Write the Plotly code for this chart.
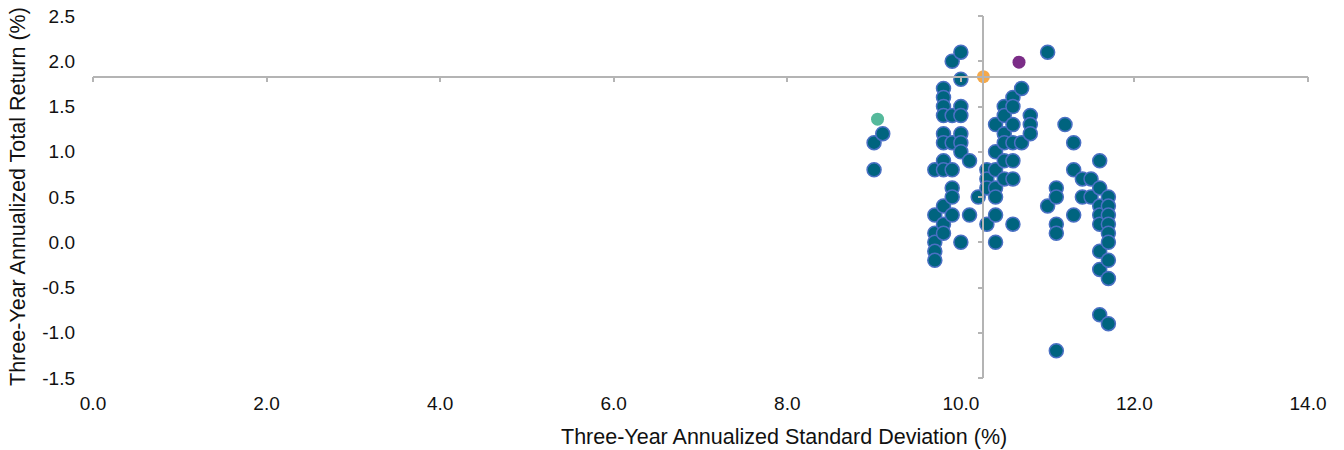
import plotly.graph_objects as go

# ---- data ----
peer_std = [
    9.0, 9.1, 9.0,
    9.7, 9.7, 9.7, 9.7, 9.7, 9.7,
    9.8, 9.8, 9.8, 9.8, 9.8, 9.8, 9.8, 9.8, 9.8, 9.8, 9.8,
    9.9, 9.9, 9.9, 9.9, 9.9, 9.9, 9.9,
    10.0, 10.0, 10.0, 10.0, 10.0, 10.0, 10.0, 10.0,
    10.1, 10.1,
    10.2,
    10.3, 10.3, 10.3, 10.3,
    10.4, 10.4, 10.4, 10.4, 10.4, 10.4, 10.4,
    10.5, 10.5, 10.5, 10.5, 10.5, 10.5,
    10.6, 10.6, 10.6, 10.6, 10.6, 10.6, 10.6,
    10.7, 10.7,
    10.8, 10.8, 10.8,
    11.0, 11.0,
    11.1, 11.1, 11.1, 11.1, 11.1,
    11.2,
    11.3, 11.3, 11.3,
    11.4, 11.4,
    11.5, 11.5,
    11.6, 11.6, 11.6, 11.6, 11.6, 11.6, 11.6, 11.6,
    11.7, 11.7, 11.7, 11.7, 11.7, 11.7, 11.7, 11.7, 11.7,
]
peer_ret = [
    1.1, 1.2, 0.8,
    0.8, 0.3, 0.1, 0.0, -0.1, -0.2,
    1.7, 1.6, 1.5, 1.4, 1.2, 1.1, 0.9, 0.8, 0.4, 0.2, 0.1,
    2.0, 1.4, 1.1, 0.8, 0.6, 0.5, 0.3,
    2.1, 1.8, 1.5, 1.4, 1.2, 1.1, 1.0, 0.0,
    0.9, 0.3,
    0.5,
    0.8, 0.7, 0.6, 0.2,
    1.3, 1.0, 0.8, 0.6, 0.5, 0.3, 0.0,
    1.5, 1.4, 1.2, 1.1, 0.9, 0.7,
    1.6, 1.5, 1.3, 1.1, 0.9, 0.7, 0.2,
    1.7, 1.1,
    1.4, 1.3, 1.2,
    2.1, 0.4,
    0.6, 0.5, 0.2, 0.1, -1.2,
    1.3,
    1.1, 0.8, 0.3,
    0.7, 0.5,
    0.7, 0.5,
    0.9, 0.6, 0.4, 0.3, 0.2, -0.1, -0.3, -0.8,
    0.5, 0.4, 0.3, 0.2, 0.1, 0.0, -0.2, -0.4, -0.9,
]

fund_std = [9.04]
fund_ret = [1.36]
index_std = [10.67]
index_ret = [1.99]
avg_std = [10.26]
avg_ret = [1.83]

x_ticks = [0, 2, 4, 6, 8, 10, 12, 14]
y_ticks = [-1.5, -1.0, -0.5, 0.0, 0.5, 1.0, 1.5, 2.0, 2.5]
x_range = [0, 14]
y_range = [-1.5, 2.5]

x_title = "Three-Year Annualized Standard Deviation (%)"
y_title = "Three-Year Annualized Total Return (%)"

FONT = "Liberation Sans, Arial, sans-serif"
TXT = "#111111"
AXC = "#b4b4b4"

fig = go.Figure()

fig.add_trace(go.Scatter(
    x=peer_std, y=peer_ret, mode="markers",
    marker=dict(size=14, color="#00647f", line=dict(color="#4a70c4", width=1.5)),
    showlegend=False, hoverinfo="x+y",
))
fig.add_trace(go.Scatter(
    x=fund_std, y=fund_ret, mode="markers",
    marker=dict(size=13, color="#55b99b"), showlegend=False,
))
fig.add_trace(go.Scatter(
    x=index_std, y=index_ret, mode="markers",
    marker=dict(size=13, color="#7b2d87"), showlegend=False,
))
fig.add_trace(go.Scatter(
    x=avg_std, y=avg_ret, mode="markers",
    marker=dict(size=13, color="#f5a94a"), showlegend=False,
))
# dummy trace to create the crossing axes subplot
fig.add_trace(go.Scatter(x=[], y=[], xaxis="x2", yaxis="y2", showlegend=False))

x_pos = (avg_ret[0] - y_range[0]) / (y_range[1] - y_range[0])
y_pos = (avg_std[0] - x_range[0]) / (x_range[1] - x_range[0])

fig.update_layout(
    width=1344, height=450,
    margin=dict(l=93, r=36, t=16, b=72, autoexpand=False),
    paper_bgcolor="white", plot_bgcolor="white",
    font=dict(family=FONT, size=19, color=TXT),
    xaxis=dict(
        range=x_range, tickvals=x_ticks, ticktext=[f"{v:.1f}" for v in x_ticks],
        showgrid=False, zeroline=False, showline=False, ticks="",
        ticklabelstandoff=12, automargin=False,
    ),
    yaxis=dict(
        range=y_range, tickvals=y_ticks, ticktext=[f"{v:.1f}" for v in y_ticks],
        showgrid=False, zeroline=False, showline=False, ticks="",
        ticklabelstandoff=17, automargin=False,
    ),
    xaxis2=dict(
        range=x_range, overlaying="x", anchor="free", position=x_pos,
        tickvals=x_ticks, showticklabels=False, ticks="outside", ticklen=5,
        tickcolor=AXC, tickwidth=1.5, showline=True, linecolor=AXC, linewidth=1.5,
        showgrid=False, zeroline=False, automargin=False,
    ),
    yaxis2=dict(
        range=y_range, overlaying="y", anchor="free", position=y_pos,
        tickvals=y_ticks, showticklabels=False, ticks="outside", ticklen=5,
        tickcolor=AXC, tickwidth=1.5, showline=True, linecolor=AXC, linewidth=1.5,
        showgrid=False, zeroline=False, automargin=False,
    ),
    annotations=[
        dict(text=x_title, xref="paper", yref="paper", x=(784 - 93) / 1215, y=0,
             yshift=-59, showarrow=False, xanchor="center", yanchor="middle",
             font=dict(family=FONT, size=21.5, color=TXT)),
        dict(text=y_title, xref="paper", yref="paper", x=0, y=0.5, xshift=-75,
             showarrow=False, textangle=-90, xanchor="center", yanchor="middle",
             font=dict(family=FONT, size=21.5, color=TXT)),
    ],
)

fig.write_html("out.html", config={"displayModeBar": False},
               post_script="document.body.style.margin='0';")
